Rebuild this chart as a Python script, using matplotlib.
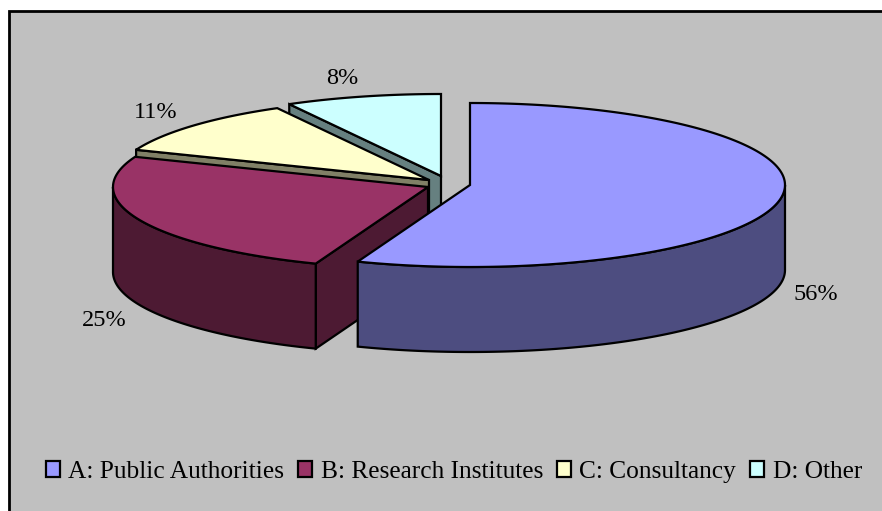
import numpy as np
import matplotlib
matplotlib.use("Agg")
import matplotlib.pyplot as plt
from matplotlib.patches import Polygon, Rectangle

labels = ["A: Public Authorities", "B: Research Institutes", "C: Consultancy", "D: Other"]
values = [55.8, 25.2, 11, 8]
pct_labels = ["56%", "25%", "11%", "8%"]
top_colors = ["#9999FF", "#993366", "#FFFFCC", "#CCFFFF"]
side_colors = ["#4D4D80", "#4D1A33", "#808066", "#668080"]
centers = [(470, 185), (428, 187), (429, 180), (441, 176)]
label_pos = [(816, 295), (104, 321), (156, 113), (342, 79)]

RX = 315
RY = 82
DEPTH = 85

plt.rcParams["font.family"] = "Liberation Serif"
fig = plt.figure(figsize=(8.82, 5.11), dpi=100)
ax = fig.add_axes([0, 0, 1, 1])
ax.set_xlim(0, 882)
ax.set_ylim(511, 0)
ax.axis("off")

ax.add_patch(Rectangle((9, 11), 880, 510, fc="#C0C0C0", ec="black", lw=2, zorder=0))


def rim(cx, cy, t0, t1):
    t = np.radians(np.linspace(t0, t1, 200))
    return np.column_stack([cx + RX * np.sin(t), cy - RY * np.cos(t)])


# slice angles run clockwise from 12 o'clock
edges = np.concatenate([[0], np.cumsum(values)]) / sum(values) * 360

# back slices first so the front ones cover them
for i in [3, 2, 1, 0]:
    cx, cy = centers[i]
    t0, t1 = edges[i], edges[i + 1]
    arc = rim(cx, cy, t0, t1)
    z = 10 - i

    # cut face along the leading edge of B, C and D
    if i > 0:
        p = arc[0]
        face = [(cx, cy), tuple(p), (p[0], p[1] + DEPTH), (cx, cy + DEPTH)]
        ax.add_patch(Polygon(face, fc=side_colors[i], ec="black", lw=1.6, zorder=z))

    # outer wall, only the part on the front half of the ellipse
    lo, hi = max(t0, 90), min(t1, 270)
    if lo < hi:
        wall = rim(cx, cy, lo, hi)
        pts = np.vstack([wall, wall[::-1] + [0, DEPTH]])
        ax.add_patch(Polygon(pts, fc=side_colors[i], ec="black", lw=1.6, zorder=z))

    pts = np.vstack([[cx, cy], arc])
    ax.add_patch(Polygon(pts, fc=top_colors[i], ec="black", lw=1.6, zorder=z))

for txt, (x, y) in zip(pct_labels, label_pos):
    ax.text(x, y, txt, fontsize=17.5, ha="center", va="center", color="black", zorder=20)

handles = [Rectangle((0, 0), 1, 1, fc=c, ec="black", lw=1.6) for c in top_colors]
ax.legend(handles, labels, loc="center", bbox_to_anchor=(454 / 882, 1 - 472 / 511), ncol=4,
          frameon=False, fontsize=18.3, handlelength=0.55, handleheight=0.6, handletextpad=0.33,
          columnspacing=0.55, borderpad=0)

fig.savefig("out.png", dpi=100)
